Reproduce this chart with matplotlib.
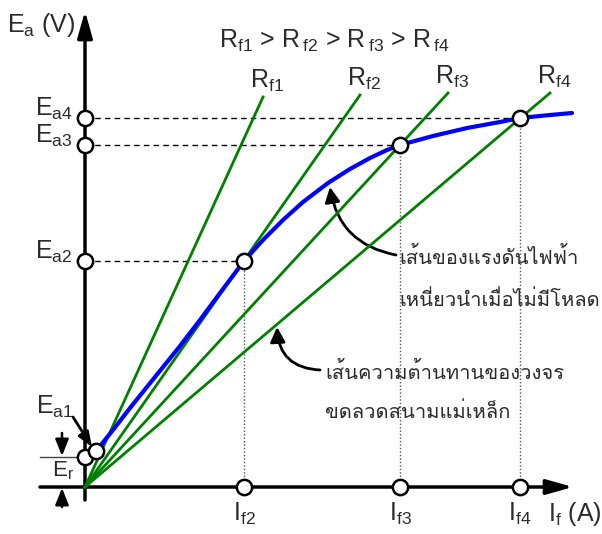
import numpy as np
import matplotlib
matplotlib.use("Agg")
import matplotlib.pyplot as plt
from matplotlib.patches import FancyArrowPatch

plt.rcParams['font.family'] = ['Liberation Sans', 'Loma']
plt.rcParams['mathtext.fontset'] = 'custom'
plt.rcParams['mathtext.rm'] = 'Liberation Sans'
plt.rcParams['mathtext.it'] = 'Liberation Sans'

TXT = '#2b2b2b'
GREEN = '#008000'
BLUE = '#0000ff'
FS = 18
FS_TH = 14.5

# field current / generated voltage at the operating points (If2..If4, Ea2..Ea4)
If_pts = [159, 315, 435]
Ea_pts = [226, 342, 369]
If_names = ['f2', 'f3', 'f4']
Ea_names = ['a2', 'a3', 'a4']

# residual voltage and first point
Er = 30
Ea1_if, Ea1 = 11, 36

# no-load magnetisation curve
curve_if = [0, 4, 11, 28, 45, 70, 95, 115, 135, 159, 178, 198, 218, 243, 265,
            285, 302, 315, 348, 382, 415, 435, 465, 487]
curve_ea = [30, 32, 36, 57, 79, 110, 141, 167, 194, 226, 247, 267, 285, 304, 318,
            329, 337, 342, 351, 359, 365, 369, 372, 374]

# field resistance lines (end points, all start at the origin)
rf_names = ['f1', 'f2', 'f3', 'f4']
rf_end_if = [178, 275, 363, 465]
rf_end_ea = [390, 392, 394, 394]

fig = plt.figure(figsize=(6.02, 5.34), dpi=100)
ax = fig.add_axes([0, 0, 1, 1])
ax.set_xlim(-85, 517)
ax.set_ylim(-47, 487)
ax.axis('off')

# axes with arrow heads
ax.annotate('', xy=(488, 0), xytext=(-45, 0),
            arrowprops=dict(arrowstyle='-|>,head_length=1.6,head_width=0.45',
                            lw=2.5, color='black', shrinkA=0, shrinkB=0))
ax.annotate('', xy=(0, 476), xytext=(0, -13),
            arrowprops=dict(arrowstyle='-|>,head_length=1.6,head_width=0.45',
                            lw=2.5, color='black', shrinkA=0, shrinkB=0))

# resistance lines
for name, xe, ye in zip(rf_names, rf_end_if, rf_end_ea):
    ax.plot([0, xe], [0, ye], color=GREEN, lw=2, zorder=3)
    ax.text(xe - 13, ye + 16, r'$\mathrm{R_{%s}}$' % name, fontsize=FS,
            color=TXT, ha='left', va='center')

# magnetisation curve
ax.plot(curve_if, curve_ea, color=BLUE, lw=3, zorder=4,
        solid_capstyle='round', solid_joinstyle='round')

# guide lines to the axes
for x, y in zip(If_pts, Ea_pts):
    ax.plot([0, x], [y, y], color='black', lw=1, ls=(0, (4, 3)), zorder=2)
    ax.plot([x, x], [0, y], color='#555555', lw=1, ls=(0, (1, 1.5)), zorder=2)

# operating point markers
mk = dict(marker='o', ms=11, mfc='white', mec='black', mew=1.8, ls='none', zorder=6)
ax.plot(If_pts, Ea_pts, **mk)
ax.plot([0] * len(Ea_pts), Ea_pts, **mk)
ax.plot(If_pts, [0] * len(If_pts), **mk)
ax.plot([0], [Er], **mk)
ax.plot([Ea1_if], [Ea1], **mk)

# axis labels
ax.text(-78, 462, r'$\mathrm{E_a}$ (V)', fontsize=FS, color=TXT, ha='left', va='center')
ax.text(463, -27, r'$\mathrm{I_f}$ (A)', fontsize=FS, color=TXT, ha='left', va='center')
for name, y in zip(Ea_names, Ea_pts):
    ax.text(-12, y + 9, r'$\mathrm{E_{%s}}$' % name, fontsize=FS, color=TXT,
            ha='right', va='center')
for name, x in zip(If_names, If_pts):
    ax.text(x, -27, r'$\mathrm{I_{%s}}$' % name, fontsize=FS, color=TXT,
            ha='center', va='center')

# Ea1 pointer
ax.text(-49, 80, r'$\mathrm{E_{a1}}$', fontsize=FS, color=TXT, ha='left', va='center')
ax.annotate('', xy=(Ea1_if - 4, Ea1 + 4), xytext=(-12, 70),
            arrowprops=dict(arrowstyle='-|>,head_length=0.9,head_width=0.35',
                            lw=2, color='black', shrinkA=0, shrinkB=0))

# residual voltage marker
ax.plot([-45, 0], [Er, Er], color='#444444', lw=1)
ax.text(-33, 16, r'$\mathrm{E_r}$', fontsize=16, color=TXT, ha='left', va='center')
ax.annotate('', xy=(-23, Er + 1), xytext=(-23, 54),
            arrowprops=dict(arrowstyle='-|>,head_length=1.0,head_width=0.4',
                            lw=1.8, color='black', shrinkA=0, shrinkB=0))
ax.annotate('', xy=(-23, -1), xytext=(-23, -20),
            arrowprops=dict(arrowstyle='-|>,head_length=1.0,head_width=0.4',
                            lw=1.8, color='black', shrinkA=0, shrinkB=0))

# title
ax.text(134, 446,
        r'$\mathrm{R_{f1}}$ > $\mathrm{R\,_{f2}}$ > $\mathrm{R\,_{f3}}$ > $\mathrm{R\,_{f4}}$',
        fontsize=FS, color=TXT, ha='left', va='center')

# curve annotations
ax.add_patch(FancyArrowPatch((311, 232), (245, 300), connectionstyle='arc3,rad=-0.35',
                             arrowstyle='-|>,head_length=9,head_width=4.5', lw=2,
                             color='black', shrinkA=0, shrinkB=0))
ax.text(314, 230, 'เส้นของแรงดันไฟฟ้า', fontsize=FS_TH, color=TXT, ha='left', va='center')
ax.text(314, 187, 'เหนี่ยวนำเมื่อไม่มีโหลด', fontsize=FS_TH, color=TXT, ha='left', va='center')

ax.add_patch(FancyArrowPatch((235, 117), (192, 160), connectionstyle='arc3,rad=-0.45',
                             arrowstyle='-|>,head_length=9,head_width=4.5', lw=2,
                             color='black', shrinkA=0, shrinkB=0))
ax.text(240, 115, 'เส้นความต้านทานของวงจร', fontsize=FS_TH, color=TXT, ha='left', va='center')
ax.text(240, 75, 'ขดลวดสนามแม่เหล็ก', fontsize=FS_TH, color=TXT, ha='left', va='center')

fig.savefig('out.png', dpi=100)
